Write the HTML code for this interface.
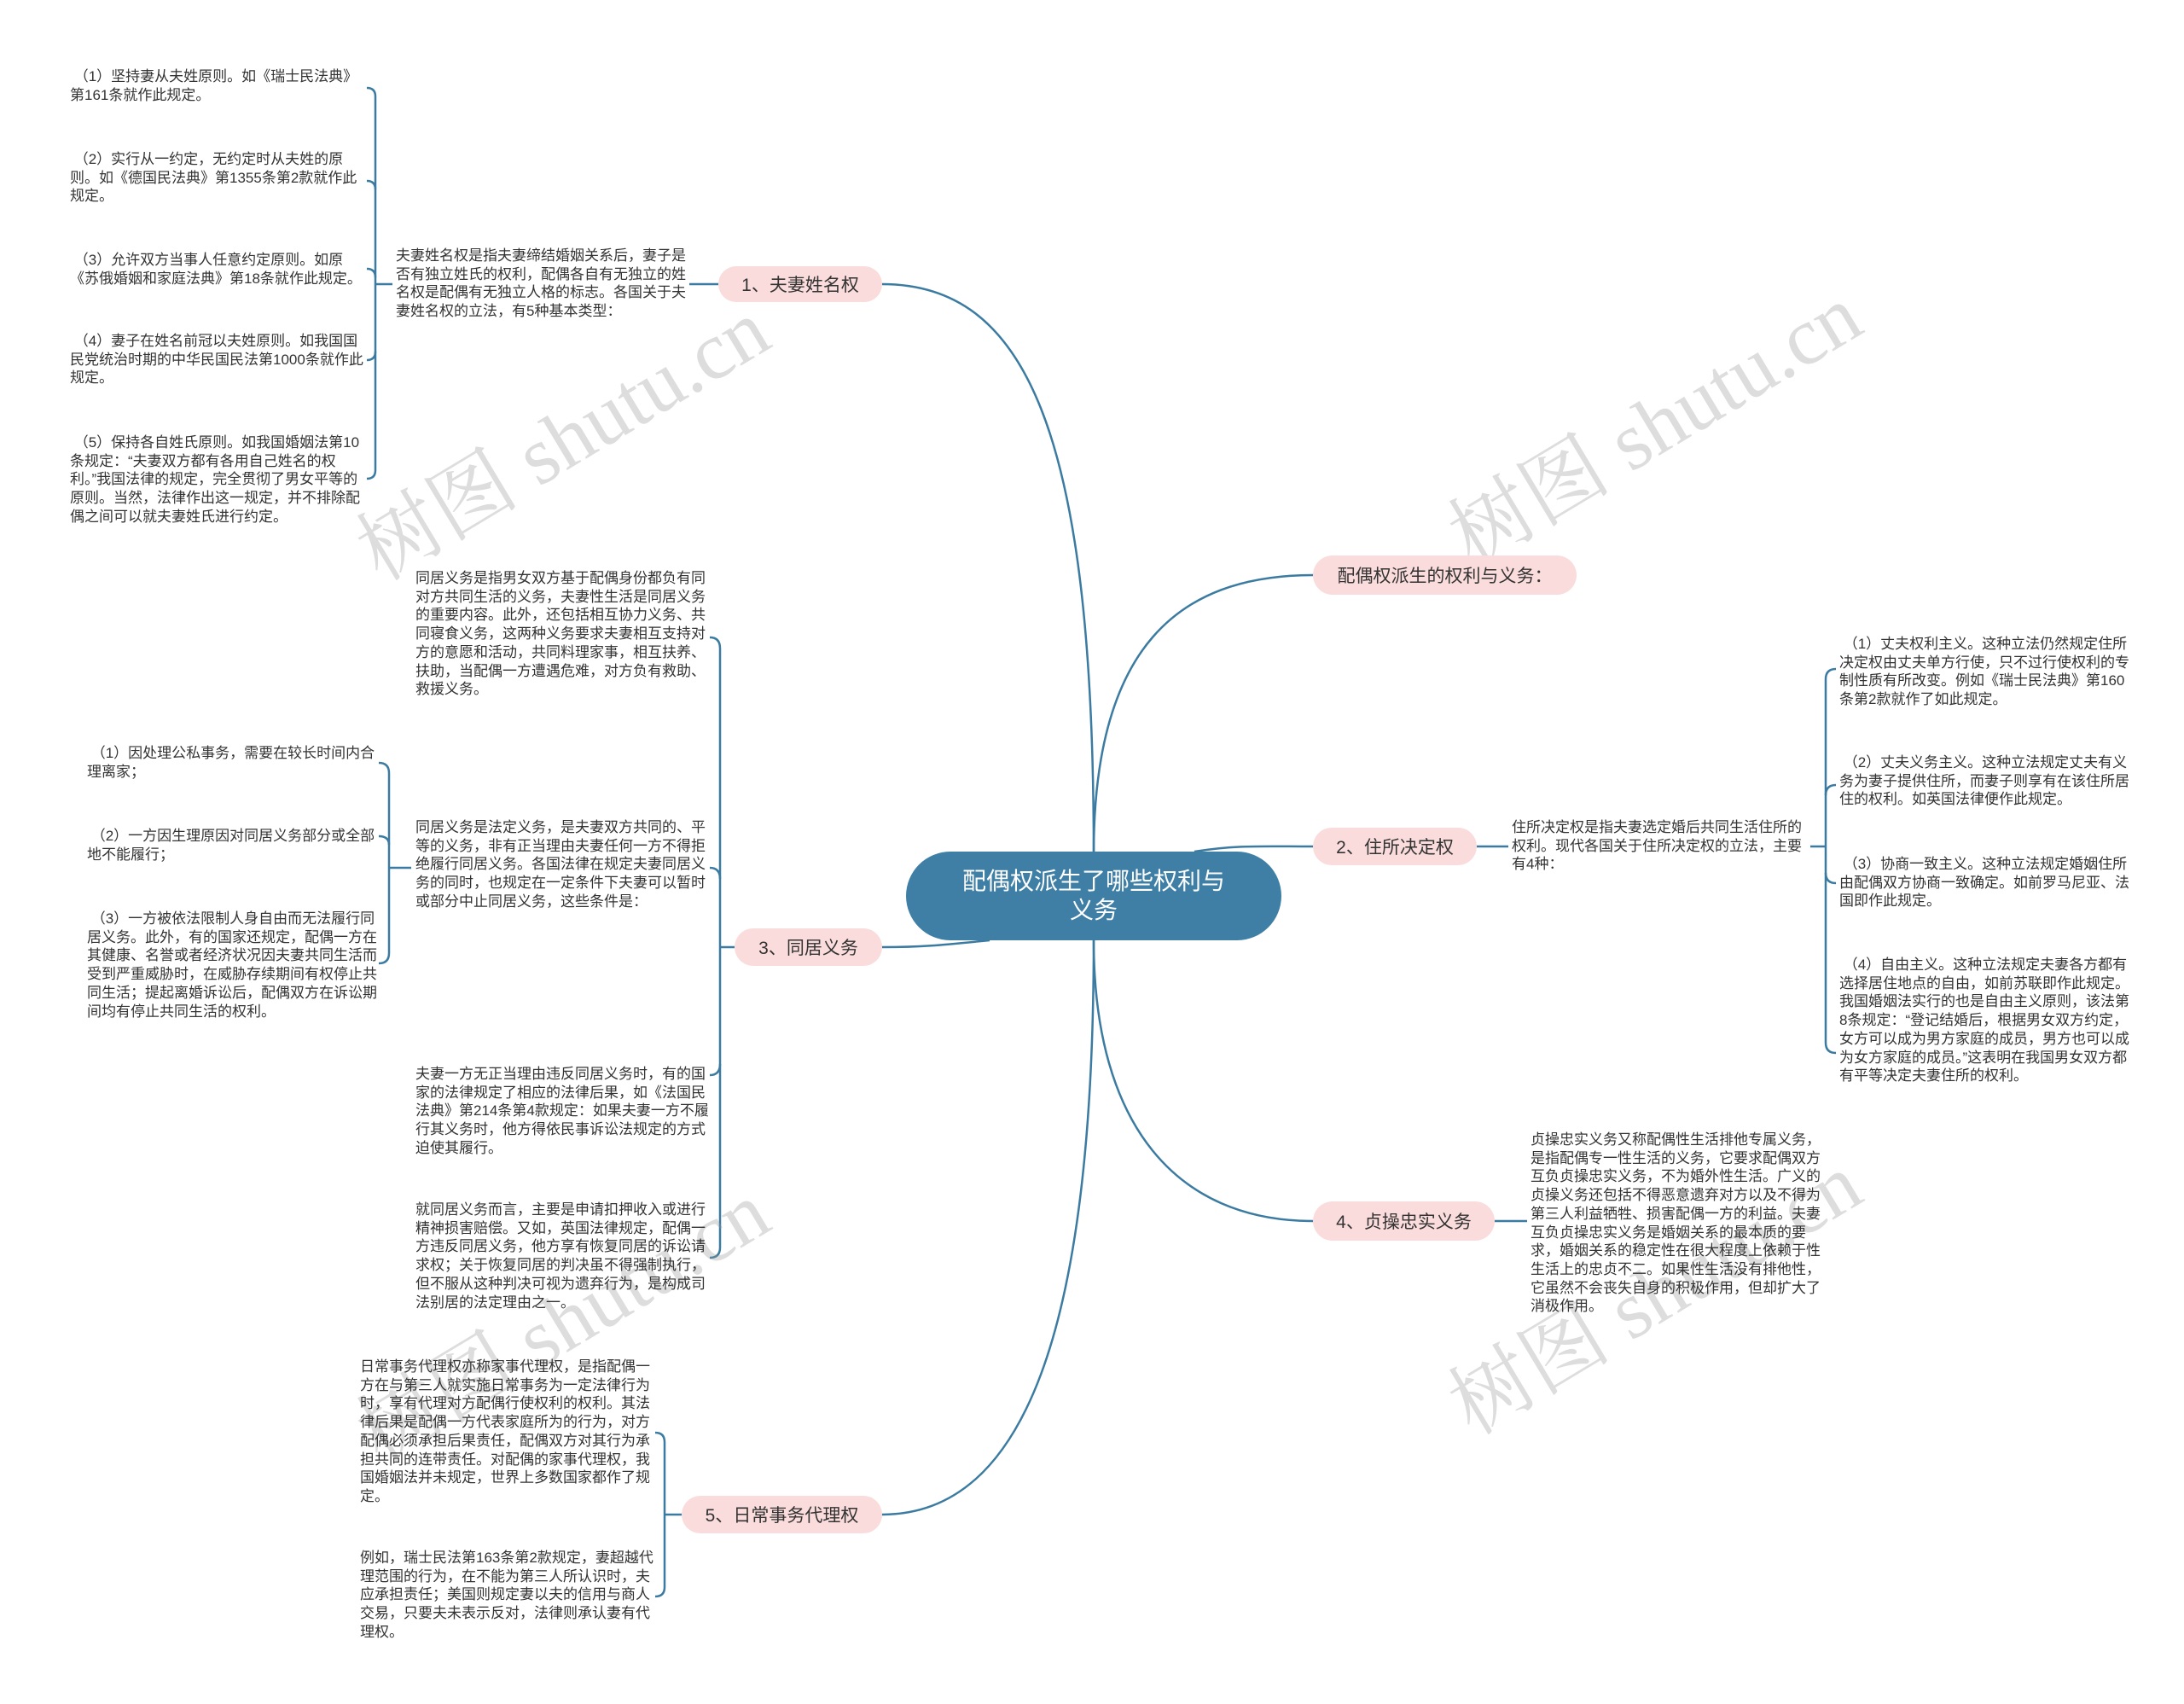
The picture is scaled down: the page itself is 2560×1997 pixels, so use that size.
<!DOCTYPE html>
<html><head><meta charset="utf-8"><style>
body{margin:0;width:2560px;height:1997px;background:#fff;position:relative;overflow:hidden;font-family:"Liberation Sans","Noto Sans CJK SC",sans-serif;}
.t{position:absolute;font-size:17px;line-height:21.7px;color:#333;}
.n{position:absolute;background:#fbdcdc;border-radius:24px;font-size:21px;color:#333;display:flex;align-items:center;justify-content:center;}
.c{position:absolute;left:1062px;top:998px;width:440px;height:104px;background:#3f7fa6;border-radius:52px;color:#fff;font-size:28px;line-height:34px;text-align:center;display:flex;align-items:center;justify-content:center;}
.w{position:absolute;font-size:96px;color:rgba(150,150,150,0.32);font-family:"Liberation Serif","Noto Serif CJK SC",serif;white-space:nowrap;transform:translate(-50%,-50%) rotate(-31deg);}
svg{position:absolute;left:0;top:0;}
</style></head><body>
<svg width="2560" height="1997" fill="none" stroke="#3b7ba1" stroke-width="2.5">
<path d="M1282,1000 C1282,500 1200,333 1034,333"/>
<path d="M1282,1000 C1282,760 1380,674 1539,674"/>
<path d="M1400,998 C1450,990 1480,992 1539,992"/>
<path d="M1160,1102 C1100,1108 1080,1110 1034,1110"/>
<path d="M1282,1102 C1282,1320 1380,1431 1539,1431"/>
<path d="M1282,1102 C1282,1560 1200,1775 1034,1775"/>
<path d="M808,333 L842,333"/><path d="M1731,992 L1768,992"/><path d="M1752,1431 L1790,1431"/>
<path d="M430,103 Q440,103 440,113 L440,551 Q440,561 430,561"/>
<path d="M430,212 Q440,212 440,222"/><path d="M430,315 Q440,315 440,325"/><path d="M430,422 Q440,422 440,412"/>
<path d="M440,333 L460,333"/>
<path d="M832,747 Q844,747 844,760 L844,1462 Q844,1474 832,1474"/>
<path d="M832,1017 Q844,1017 844,1030"/><path d="M832,1260 Q844,1260 844,1247"/>
<path d="M844,1110 L861,1110"/>
<path d="M444,894 Q456,894 456,906 L456,1117 Q456,1129 444,1129"/>
<path d="M444,980 Q456,980 456,990"/><path d="M456,1017 L482,1017"/>
<path d="M768,1679 Q779,1679 779,1690 L779,1860 Q779,1871 768,1871"/>
<path d="M779,1775 L799,1775"/>
<path d="M2152,784 Q2140,784 2140,796 L2140,1222 Q2140,1234 2152,1234"/>
<path d="M2152,920 Q2140,920 2140,932"/><path d="M2152,1035 Q2140,1035 2140,1023"/>
<path d="M2122,992 L2140,992"/>
</svg>
<div class="w" style="left:656px;top:509px">树图 shutu.cn</div>
<div class="w" style="left:1936px;top:492px">树图 shutu.cn</div>
<div class="w" style="left:656px;top:1543px">树图 shutu.cn</div>
<div class="w" style="left:1936px;top:1510px">树图 shutu.cn</div>

<div class="c">配偶权派生了哪些权利与<br>义务</div>
<div class="n" style="left:842px;top:312px;width:192px;height:42px">1、夫妻姓名权</div>
<div class="n" style="left:1539px;top:651px;width:309px;height:46px">配偶权派生的权利与义务：</div>
<div class="n" style="left:1539px;top:970px;width:192px;height:44px">2、住所决定权</div>
<div class="n" style="left:861px;top:1088px;width:173px;height:44px">3、同居义务</div>
<div class="n" style="left:1539px;top:1408px;width:213px;height:46px">4、贞操忠实义务</div>
<div class="n" style="left:799px;top:1753px;width:235px;height:44px">5、日常事务代理权</div>

<div class="t" style="left:82px;top:79px;width:345px">&nbsp;（1）坚持妻从夫姓原则。如《瑞士民法典》第161条就作此规定。</div>
<div class="t" style="left:82px;top:176px;width:345px">&nbsp;（2）实行从一约定，无约定时从夫姓的原则。如《德国民法典》第1355条第2款就作此规定。</div>
<div class="t" style="left:82px;top:294px;width:345px">&nbsp;（3）允许双方当事人任意约定原则。如原《苏俄婚姻和家庭法典》第18条就作此规定。</div>
<div class="t" style="left:82px;top:389px;width:345px">&nbsp;（4）妻子在姓名前冠以夫姓原则。如我国国民党统治时期的中华民国民法第1000条就作此规定。</div>
<div class="t" style="left:82px;top:508px;width:345px">&nbsp;（5）保持各自姓氏原则。如我国婚姻法第10条规定：“夫妻双方都有各用自己姓名的权利。”我国法律的规定，完全贯彻了男女平等的原则。当然，法律作出这一规定，并不排除配偶之间可以就夫妻姓氏进行约定。</div>
<div class="t" style="left:464px;top:289px;width:345px">夫妻姓名权是指夫妻缔结婚姻关系后，妻子是否有独立姓氏的权利，配偶各自有无独立的姓名权是配偶有无独立人格的标志。各国关于夫妻姓名权的立法，有5种基本类型：</div>

<div class="t" style="left:487px;top:667px;width:345px">同居义务是指男女双方基于配偶身份都负有同对方共同生活的义务，夫妻性生活是同居义务的重要内容。此外，还包括相互协力义务、共同寝食义务，这两种义务要求夫妻相互支持对方的意愿和活动，共同料理家事，相互扶养、扶助，当配偶一方遭遇危难，对方负有救助、救援义务。</div>
<div class="t" style="left:487px;top:959px;width:345px">同居义务是法定义务，是夫妻双方共同的、平等的义务，非有正当理由夫妻任何一方不得拒绝履行同居义务。各国法律在规定夫妻同居义务的同时，也规定在一定条件下夫妻可以暂时或部分中止同居义务，这些条件是：</div>
<div class="t" style="left:487px;top:1248px;width:345px">夫妻一方无正当理由违反同居义务时，有的国家的法律规定了相应的法律后果，如《法国民法典》第214条第4款规定：如果夫妻一方不履行其义务时，他方得依民事诉讼法规定的方式迫使其履行。</div>
<div class="t" style="left:487px;top:1407px;width:345px">就同居义务而言，主要是申请扣押收入或进行精神损害赔偿。又如，英国法律规定，配偶一方违反同居义务，他方享有恢复同居的诉讼请求权；关于恢复同居的判决虽不得强制执行，但不服从这种判决可视为遗弃行为，是构成司法别居的法定理由之一。</div>
<div class="t" style="left:102px;top:872px;width:345px">&nbsp;（1）因处理公私事务，需要在较长时间内合理离家；</div>
<div class="t" style="left:102px;top:969px;width:345px">&nbsp;（2）一方因生理原因对同居义务部分或全部地不能履行；</div>
<div class="t" style="left:102px;top:1066px;width:345px">&nbsp;（3）一方被依法限制人身自由而无法履行同居义务。此外，有的国家还规定，配偶一方在其健康、名誉或者经济状况因夫妻共同生活而受到严重威胁时，在威胁存续期间有权停止共同生活；提起离婚诉讼后，配偶双方在诉讼期间均有停止共同生活的权利。</div>

<div class="t" style="left:422px;top:1591px;width:345px">日常事务代理权亦称家事代理权，是指配偶一方在与第三人就实施日常事务为一定法律行为时，享有代理对方配偶行使权利的权利。其法律后果是配偶一方代表家庭所为的行为，对方配偶必须承担后果责任，配偶双方对其行为承担共同的连带责任。对配偶的家事代理权，我国婚姻法并未规定，世界上多数国家都作了规定。</div>
<div class="t" style="left:422px;top:1815px;width:345px">例如，瑞士民法第163条第2款规定，妻超越代理范围的行为，在不能为第三人所认识时，夫应承担责任；美国则规定妻以夫的信用与商人交易，只要夫未表示反对，法律则承认妻有代理权。</div>

<div class="t" style="left:1772px;top:959px;width:347px">住所决定权是指夫妻选定婚后共同生活住所的权利。现代各国关于住所决定权的立法，主要有4种：</div>
<div class="t" style="left:2156px;top:744px;width:345px">&nbsp;（1）丈夫权利主义。这种立法仍然规定住所决定权由丈夫单方行使，只不过行使权利的专制性质有所改变。例如《瑞士民法典》第160条第2款就作了如此规定。</div>
<div class="t" style="left:2156px;top:883px;width:345px">&nbsp;（2）丈夫义务主义。这种立法规定丈夫有义务为妻子提供住所，而妻子则享有在该住所居住的权利。如英国法律便作此规定。</div>
<div class="t" style="left:2156px;top:1002px;width:345px">&nbsp;（3）协商一致主义。这种立法规定婚姻住所由配偶双方协商一致确定。如前罗马尼亚、法国即作此规定。</div>
<div class="t" style="left:2156px;top:1120px;width:345px">&nbsp;（4）自由主义。这种立法规定夫妻各方都有选择居住地点的自由，如前苏联即作此规定。我国婚姻法实行的也是自由主义原则，该法第8条规定：“登记结婚后，根据男女双方约定，女方可以成为男方家庭的成员，男方也可以成为女方家庭的成员。”这表明在我国男女双方都有平等决定夫妻住所的权利。</div>
<div class="t" style="left:1794px;top:1325px;width:345px">贞操忠实义务又称配偶性生活排他专属义务，是指配偶专一性生活的义务，它要求配偶双方互负贞操忠实义务，不为婚外性生活。广义的贞操义务还包括不得恶意遗弃对方以及不得为第三人利益牺牲、损害配偶一方的利益。夫妻互负贞操忠实义务是婚姻关系的最本质的要求，婚姻关系的稳定性在很大程度上依赖于性生活上的忠贞不二。如果性生活没有排他性，它虽然不会丧失自身的积极作用，但却扩大了消极作用。</div>
</body></html>
